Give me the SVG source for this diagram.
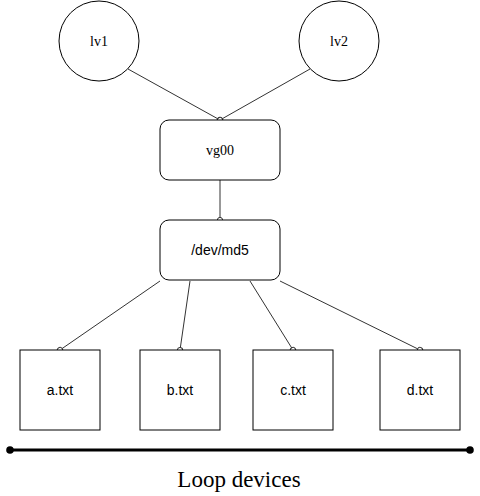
<svg xmlns="http://www.w3.org/2000/svg" width="480" height="496" viewBox="0 0 480 496">
<defs>
<marker id="oval" markerWidth="8" markerHeight="8" refX="4" refY="4" markerUnits="userSpaceOnUse" orient="auto">
<circle cx="4" cy="4" r="2.6" fill="#fff" stroke="#333" stroke-width="1"/>
</marker>
<marker id="dot" markerWidth="10" markerHeight="10" refX="5" refY="5" markerUnits="userSpaceOnUse">
<circle cx="5" cy="5" r="3.8" fill="#000"/>
</marker>
<style>
.edge{stroke:#333;stroke-width:1;fill:none;marker-end:url(#oval)}
.shape{fill:#fff;stroke:#000;stroke-width:1}
.serif{font-family:"Liberation Serif",serif;font-size:14px;text-anchor:middle;dominant-baseline:central;fill:#000}
.sans{font-family:"Liberation Sans",Arial,sans-serif;font-size:14px;text-anchor:middle;dominant-baseline:central;fill:#000}
</style>
</defs>
<rect width="480" height="496" fill="#fff"/>
<g id="connectors">
<line class="edge" x1="128" y1="69" x2="220" y2="120"/>
<line class="edge" x1="310" y1="69" x2="220" y2="120"/>
<line class="edge" x1="220" y1="180" x2="220" y2="220"/>
<line class="edge" x1="160" y1="281" x2="60" y2="350"/>
<line class="edge" x1="190" y1="281" x2="180" y2="350"/>
<line class="edge" x1="250" y1="281" x2="293" y2="350"/>
<line class="edge" x1="280" y1="281" x2="420" y2="350"/>
</g>
<g id="lv1"><circle class="shape" cx="99" cy="41" r="40"/><text class="serif" x="99" y="41">lv1</text></g>
<g id="lv2"><circle class="shape" cx="339" cy="41" r="40"/><text class="serif" x="339" y="41">lv2</text></g>
<g id="vg00"><rect class="shape" x="160" y="120" width="120" height="60" rx="9"/><text class="serif" x="220" y="150">vg00</text></g>
<g id="md5"><rect class="shape" x="160" y="220" width="120" height="60" rx="9"/><text class="sans" x="220" y="250">/dev/md5</text></g>
<g id="a"><rect class="shape" x="20" y="350" width="80" height="80"/><text class="sans" x="60" y="390">a.txt</text></g>
<g id="b"><rect class="shape" x="140" y="350" width="80" height="80"/><text class="sans" x="180" y="390">b.txt</text></g>
<g id="c"><rect class="shape" x="253" y="350" width="80" height="80"/><text class="sans" x="293" y="390">c.txt</text></g>
<g id="d"><rect class="shape" x="380" y="350" width="80" height="80"/><text class="sans" x="420" y="390">d.txt</text></g>
<g id="loop">
<line x1="10" y1="450" x2="470" y2="450" stroke="#000" stroke-width="3" marker-start="url(#dot)" marker-end="url(#dot)"/>
<text x="239" y="487" font-family="'Liberation Serif',serif" font-size="23" text-anchor="middle" fill="#000">Loop devices</text>
</g>
</svg>
